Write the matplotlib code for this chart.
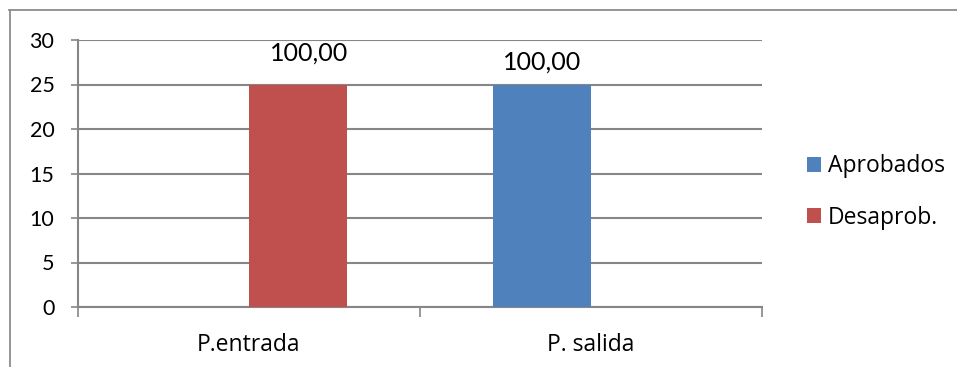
import matplotlib
matplotlib.use("Agg")
import matplotlib.pyplot as plt
from matplotlib.lines import Line2D
import numpy as np

plt.rcParams['font.family'] = ['Lato', 'DejaVu Sans']

categories = ["P.entrada", "P. salida"]
series_names = ["Aprobados", "Desaprob."]
aprobados = [0, 25]
desaprob = [25, 0]
total_students = 25
y_ticks = [0, 5, 10, 15, 20, 25, 30]

colors = {"Aprobados": "#4F81BD", "Desaprob.": "#C0504D"}
grid_color = "#868686"
text_family = ['Open Sans', 'DejaVu Sans']

W, H, DPI = 957, 367, 100
fig = plt.figure(figsize=(W / DPI, H / DPI), dpi=DPI)

# outer chart frame
fig.add_artist(Line2D([9 / W, 1.0], [1 - 9.5 / H, 1 - 9.5 / H], transform=fig.transFigure,
                      color="#8C8C8C", lw=1.3))
fig.add_artist(Line2D([9.5 / W, 9.5 / W], [0, 1 - 9.5 / H], transform=fig.transFigure,
                      color="#8C8C8C", lw=1.3))

ax = fig.add_axes([78 / W, 1 - 307 / H, (762 - 78) / W, (307 - 40) / H])

x = np.arange(len(categories))
bw = 0.2865
b1 = ax.bar(x - bw / 2, aprobados, bw, color=colors["Aprobados"], label="Aprobados", zorder=3)
b2 = ax.bar(x + bw / 2, desaprob, bw, color=colors["Desaprob."], label="Desaprob.", zorder=3)

ax.set_xlim(-0.5, len(categories) - 0.5)
ax.set_ylim(0, 30)
ax.set_yticks(y_ticks)
ax.yaxis.grid(True, color=grid_color, lw=1.5, zorder=0)
ax.set_axisbelow(True)

for s in ["top", "right"]:
    ax.spines[s].set_visible(False)
for s in ["left", "bottom"]:
    ax.spines[s].set_color(grid_color)
    ax.spines[s].set_linewidth(1.5)

ax.tick_params(axis="y", length=5, width=1.2, color=grid_color, pad=12, labelsize=15.5)
ax.set_xticks(x)
ax.set_xticklabels(categories, family=text_family, fontsize=16.5)
ax.set_xticks(np.arange(-0.5, len(categories)), minor=True)
ax.tick_params(axis="x", which="major", length=0, pad=19)
ax.tick_params(axis="x", which="minor", length=7, width=1.2, color=grid_color)

# percentage labels above the bars
pct_entrada = desaprob[0] / total_students * 100
pct_salida = aprobados[1] / total_students * 100
fmt = lambda v: f"{v:.2f}".replace(".", ",")
ax.annotate(fmt(pct_entrada), (x[0] + bw / 2, desaprob[0]), xytext=(11, 20),
            textcoords="offset pixels", ha="center", va="bottom", fontsize=18)
ax.annotate(fmt(pct_salida), (x[1] - bw / 2, aprobados[1]), xytext=(0, 11),
            textcoords="offset pixels", ha="center", va="bottom", fontsize=18)

leg = ax.legend(handles=[b1, b2], loc="center left", bbox_to_anchor=(1.035, 0.43),
                frameon=False, prop={'family': text_family, 'size': 16.5},
                handlelength=0.64, handleheight=0.64,
                handletextpad=0.3, labelspacing=1.2)

fig.savefig("out.png", dpi=DPI)
